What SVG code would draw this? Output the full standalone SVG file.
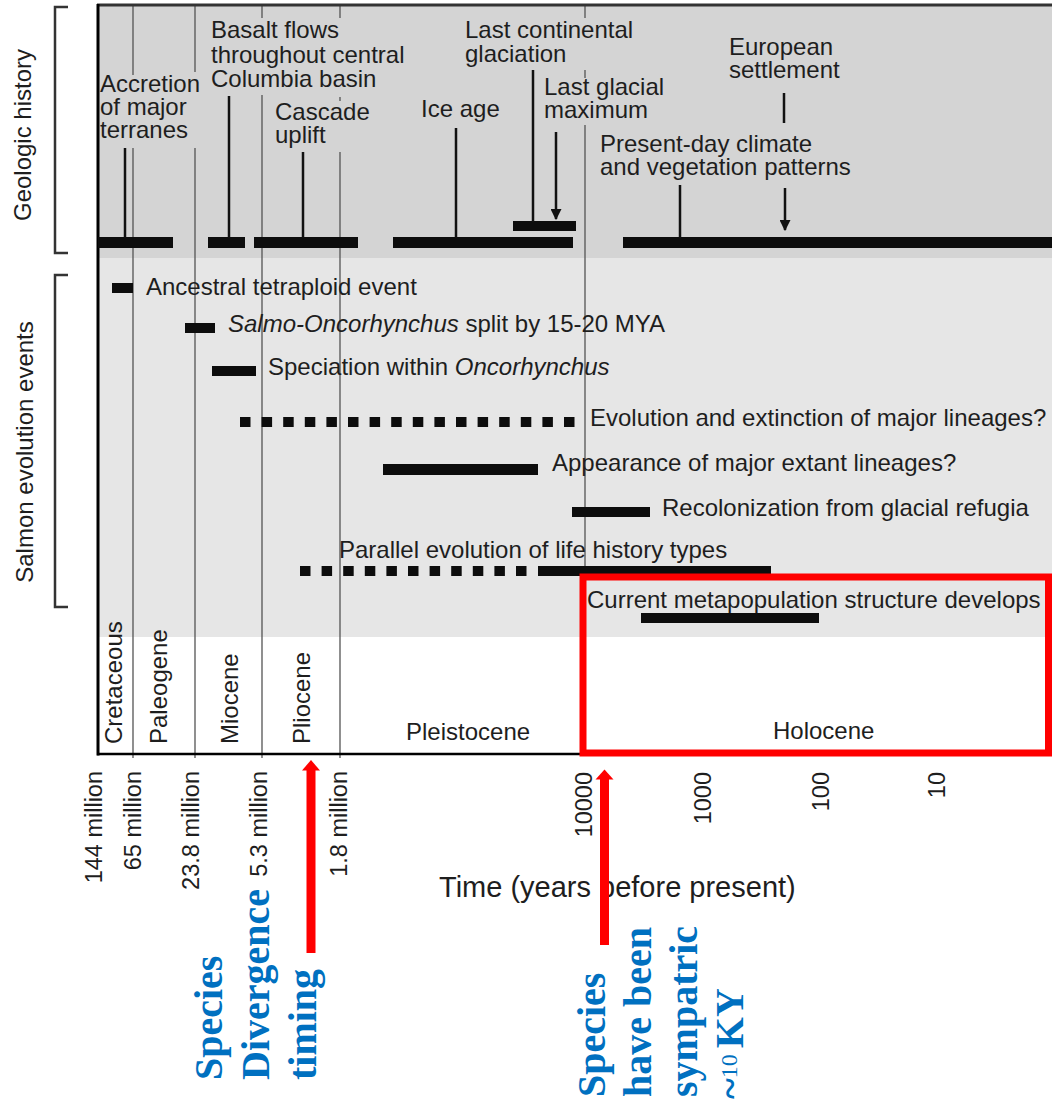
<svg xmlns="http://www.w3.org/2000/svg" width="1052" height="1101" viewBox="0 0 1052 1101">
<style>
.t{font-family:"Liberation Sans",Arial,sans-serif;font-size:24px;fill:#1e1e1e}
.tk{font-family:"Liberation Sans",Arial,sans-serif;font-size:23.5px;fill:#1e1e1e}
.grid{stroke:#555;stroke-width:1.3;fill:none}
.lead{stroke:#111;stroke-width:2.5;fill:none}
.bar{fill:#0d0d0d}
.dots{stroke:#0d0d0d;stroke-width:10;stroke-dasharray:10.5 11.1;fill:none}
.brk{stroke:#333;stroke-width:2.5;fill:none}
.blue{font-family:"Liberation Serif","Times New Roman",serif;font-weight:bold;font-size:40px;fill:#0070c0}
.red{fill:#ff0000}
</style>
<defs>
<marker id="ah" viewBox="0 0 10 10" refX="9" refY="5" markerWidth="4.4" markerHeight="4.4" orient="auto" markerUnits="strokeWidth">
<path d="M0,0 L10,5 L0,10 z" fill="#111"/>
</marker>
</defs>
<rect width="1052" height="1101" fill="#fff"/>
<g id="background">
<rect x="97" y="5" width="955" height="253" fill="#d4d4d4"/>
<rect x="97" y="258" width="955" height="379" fill="#e6e6e6"/>
<rect x="97" y="637" width="955" height="117" fill="#fff"/>
</g>
<g id="grid">
<path class="grid" d="M133,5V75M133,148V758M195,5V72M195,148V758M262,5V18M262,95V758M340,5V18M340,97V101M340,152V758M585,5V18M585,70V78M585,125V754"/>
</g>
<g id="frame">
<line x1="97" y1="5" x2="1052" y2="5" stroke="#333" stroke-width="3"/>
<line x1="98" y1="4" x2="98" y2="755.5" stroke="#000" stroke-width="3"/>
<line x1="97" y1="754" x2="1052" y2="754" stroke="#000" stroke-width="2.5"/>
</g>
<g id="side-labels">
<path class="brk" d="M68,7H55V253H68"/>
<text class="t" transform="translate(31,135) rotate(-90)" text-anchor="middle">Geologic history</text>
<path class="brk" d="M68,275H55V607H68"/>
<text class="t" transform="translate(33,452) rotate(-90)" text-anchor="middle">Salmon evolution events</text>
</g>
<g id="geo-accretion">
<text class="t" x="100" y="92">Accretion</text>
<text class="t" x="100" y="115">of major</text>
<text class="t" x="100" y="138">terranes</text>
<rect class="bar" x="98" y="237" width="75" height="11"/>
</g>
<g id="geo-basalt">
<text class="t" x="211" y="38">Basalt flows</text>
<text class="t" x="211" y="63">throughout central</text>
<text class="t" x="211" y="87">Columbia basin</text>
<rect class="bar" x="208" y="237" width="37" height="11"/>
</g>
<g id="geo-cascade">
<text class="t" x="275" y="120">Cascade</text>
<text class="t" x="275" y="143">uplift</text>
<rect class="bar" x="254" y="237" width="104" height="11"/>
</g>
<g id="geo-iceage">
<text class="t" x="421" y="117">Ice age</text>
<rect class="bar" x="393" y="237" width="180" height="11"/>
</g>
<g id="geo-lastcontinental">
<text class="t" x="465" y="38">Last continental</text>
<text class="t" x="465" y="62">glaciation</text>
<rect class="bar" x="513" y="221" width="63" height="10"/>
</g>
<g id="geo-lastglacial">
<text class="t" x="544" y="95">Last glacial</text>
<text class="t" x="544" y="118">maximum</text>
</g>
<g id="geo-european">
<text class="t" x="729" y="55">European</text>
<text class="t" x="729" y="78">settlement</text>
</g>
<g id="geo-presentday">
<text class="t" x="600" y="152">Present-day climate</text>
<text class="t" x="600" y="175">and vegetation patterns</text>
<rect class="bar" x="623" y="237" width="429" height="11"/>
</g>
<g id="ev-ancestral">
<rect class="bar" x="112" y="283" width="21" height="10"/>
<text class="t" x="146" y="295">Ancestral tetraploid event</text>
</g>
<g id="ev-salmo">
<rect class="bar" x="185" y="323" width="30" height="10"/>
<text class="t" x="228" y="332"><tspan font-style="italic">Salmo-Oncorhynchus</tspan> split by 15-20 MYA</text>
</g>
<g id="ev-speciation">
<rect class="bar" x="212" y="366" width="44" height="10"/>
<text class="t" x="268" y="375">Speciation within <tspan font-style="italic">Oncorhynchus</tspan></text>
</g>
<g id="ev-evolution">
<line class="dots" x1="240" y1="422" x2="575" y2="422"/>
<text class="t" x="590" y="426">Evolution and extinction of major lineages?</text>
</g>
<g id="ev-appearance">
<rect class="bar" x="383" y="464" width="155" height="11"/>
<text class="t" x="552" y="471">Appearance of major extant lineages?</text>
</g>
<g id="ev-recolonization">
<rect class="bar" x="572" y="507" width="78" height="10"/>
<text class="t" x="662" y="516">Recolonization from glacial refugia</text>
</g>
<g id="ev-parallel">
<text class="t" x="339" y="558">Parallel evolution of life history types</text>
<line class="dots" x1="300" y1="571" x2="527" y2="571"/>
<rect class="bar" x="538" y="566" width="233" height="10"/>
</g>
<g id="ev-current">
<text class="t" x="587" y="608">Current metapopulation structure develops</text>
<rect class="bar" x="641" y="613" width="178" height="10"/>
</g>
<g id="connectors">
<line class="lead" x1="125" y1="148" x2="125" y2="238"/>
<line class="lead" x1="229" y1="96" x2="229" y2="238"/>
<line class="lead" x1="303" y1="152" x2="303" y2="238"/>
<line class="lead" x1="456" y1="128" x2="456" y2="238"/>
<line class="lead" x1="533" y1="70" x2="533" y2="222"/>
<line class="lead" x1="556" y1="132" x2="556" y2="219" marker-end="url(#ah)"/>
<line class="lead" x1="784" y1="93" x2="784" y2="123"/>
<line class="lead" x1="680" y1="185" x2="680" y2="238"/>
<line class="lead" x1="785" y1="188" x2="785" y2="230" marker-end="url(#ah)"/>
</g>
<g id="epochs">
<text class="t" transform="translate(122,744) rotate(-90)">Cretaceous</text>
<text class="t" transform="translate(167,744) rotate(-90)">Paleogene</text>
<text class="t" transform="translate(238,744) rotate(-90)">Miocene</text>
<text class="t" transform="translate(310,744) rotate(-90)">Pliocene</text>
<text class="t" x="406" y="740">Pleistocene</text>
<text class="t" x="773" y="739">Holocene</text>
</g>
<g id="axis-labels">
<text class="tk" transform="translate(101.5,771) rotate(-90)" text-anchor="end">144 million</text>
<text class="tk" transform="translate(140.5,771) rotate(-90)" text-anchor="end">65 million</text>
<text class="tk" transform="translate(198.5,771) rotate(-90)" text-anchor="end">23.8 million</text>
<text class="tk" transform="translate(266.5,771) rotate(-90)" text-anchor="end">5.3 million</text>
<text class="tk" transform="translate(346.5,771) rotate(-90)" text-anchor="end">1.8 million</text>
<text class="tk" transform="translate(591.5,772) rotate(-90)" text-anchor="end">10000</text>
<text class="tk" transform="translate(710.5,772) rotate(-90)" text-anchor="end">1000</text>
<text class="tk" transform="translate(828.5,772) rotate(-90)" text-anchor="end">100</text>
<text class="tk" transform="translate(944.5,772) rotate(-90)" text-anchor="end">10</text>
<text class="t" x="439" y="897" style="font-size:29px">Time (years before present)</text>
</g>
<g id="highlight-box">
<rect x="583" y="577" width="465.5" height="176" fill="none" stroke="#ff0000" stroke-width="7"/>
</g>
<g id="red-arrows">
<rect class="red" x="306.5" y="769" width="9" height="184"/>
<polygon class="red" points="302,770.5 311,760 320,770.5"/>
<rect class="red" x="600" y="778" width="9" height="167"/>
<polygon class="red" points="595.5,779.5 604.5,769.5 613.5,779.5"/>
</g>
<g id="note-divergence">
<text class="blue" transform="translate(222,1080) rotate(-90)">Species</text>
<text class="blue" transform="translate(269,1080) rotate(-90)">Divergence</text>
<text class="blue" transform="translate(316,1080) rotate(-90)">timing</text>
</g>
<g id="note-sympatric">
<text class="blue" transform="translate(605,1097) rotate(-90)">Species</text>
<text class="blue" transform="translate(651,1097) rotate(-90)">have been</text>
<text class="blue" transform="translate(697,1097) rotate(-90)">sympatric</text>
<text class="blue" transform="translate(743,1099) rotate(-90)">~<tspan font-size="24" font-weight="normal" dy="-6">10 </tspan><tspan dy="6">KY</tspan></text>
</g>
</svg>
